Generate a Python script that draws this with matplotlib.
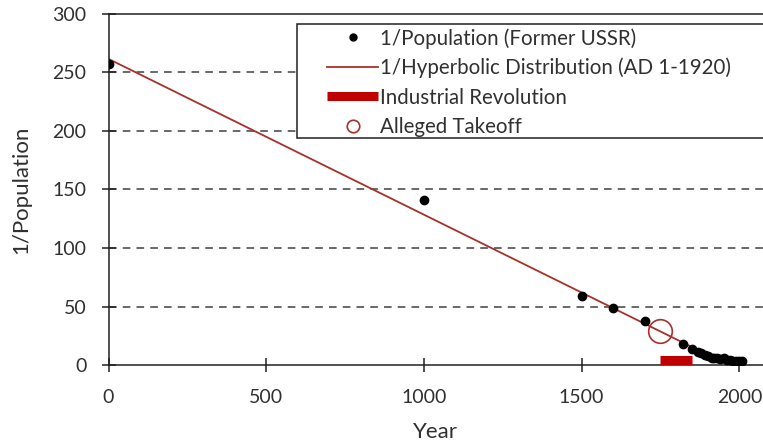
import numpy as np
import matplotlib
matplotlib.use('Agg')
import matplotlib.pyplot as plt
from matplotlib.lines import Line2D
from matplotlib.patches import Rectangle

plt.rcParams['font.family'] = ['Lato', 'DejaVu Sans']

# 1/Population (former USSR)
years = [1, 1000, 1500, 1600, 1700, 1820, 1850, 1870, 1880, 1890, 1900, 1913,
         1920, 1930, 1940, 1950, 1960, 1970, 1980, 1990, 2000, 2008]
inv_pop = [257, 141, 59, 48.3, 37.7, 18.3, 13.7, 11.3, 9.9, 8.6, 7.5, 6.4,
           6.4, 5.7, 5.1, 5.6, 4.7, 4.1, 3.8, 3.5, 3.5, 3.5]

# 1/hyperbolic fit (AD 1-1920)
fit_x = [1, 1965]
fit_y = [261.5, 0]

# industrial revolution span and alleged takeoff
ind_rev_x = [1750, 1850]
ind_rev_y = [4, 4]
takeoff_x = [1750]
takeoff_y = [29]

line_col = '#A8302A'
bar_col = '#C00000'
txt_col = '#303030'

W, H = 763, 446
fig = plt.figure(figsize=(W / 100, H / 100), dpi=100)
ax = fig.add_axes([108.5 / W, 1 - 365 / H, 1 - 108.5 / W, (365 - 14) / H])

for yv in [50, 100, 150, 200, 250]:
    ax.axhline(yv, color='#404040', lw=1.1, ls=(0, (5, 4)), zorder=0)

ax.plot(fit_x, fit_y, '-', color=line_col, lw=1.3, zorder=2)
ax.plot(ind_rev_x, ind_rev_y, '-', color=bar_col, lw=6.5, solid_capstyle='butt', zorder=3)
ax.plot(years, inv_pop, 'o', color='black', ms=6, zorder=4)
ax.plot(takeoff_x, takeoff_y, 'o', mfc='none', mec=line_col, mew=1.2, ms=17, zorder=5)

ax.set_xlim(0, 2075)
ax.set_ylim(0, 300)
ax.set_xticks([0, 500, 1000, 1500, 2000])
ax.set_yticks([0, 50, 100, 150, 200, 250, 300])
ax.spines['right'].set_visible(False)
for s in ['left', 'bottom', 'top']:
    ax.spines[s].set_color('#202020')
    ax.spines[s].set_linewidth(1.1)
ax.tick_params(direction='inout', length=10, width=1.1, color='#202020',
               labelsize=14, labelcolor=txt_col)
ax.tick_params(axis='y', pad=11)
ax.tick_params(axis='x', pad=12)
ax.set_xlabel('Year', fontsize=16, color=txt_col, labelpad=12)
ax.set_ylabel('1/Population', fontsize=16, color=txt_col, labelpad=15)

handles = [
    Line2D([], [], ls='none', marker='o', color='black', ms=5),
    Line2D([], [], color=line_col, lw=1.3),
    Line2D([], [], color=bar_col, lw=6.5, solid_capstyle='butt'),
    Line2D([], [], ls='none', marker='o', mfc='none', mec=line_col, mew=1.2, ms=9),
]
labels = ['1/Population (Former USSR)', '1/Hyperbolic Distribution (AD 1-1920)',
          'Industrial Revolution', 'Alleged Takeoff']

# legend frame, running off the right edge like the source
frame = Rectangle((297 / W, 1 - 138 / H), (W + 5 - 297) / W, (138 - 24) / H,
                  transform=fig.transFigure, fc='white', ec='#202020', lw=1.1, zorder=5)
fig.patches.append(frame)

leg = fig.legend(handles, labels, loc='upper left', bbox_to_anchor=(327 / W, 1 - 28 / H),
                 frameon=False, fontsize=14.8, handlelength=2.5, handletextpad=0.1,
                 labelspacing=0.45, borderpad=0, borderaxespad=0)
leg.set_zorder(10)
for t in leg.get_texts():
    t.set_color(txt_col)

fig.savefig('out.png', dpi=100)
